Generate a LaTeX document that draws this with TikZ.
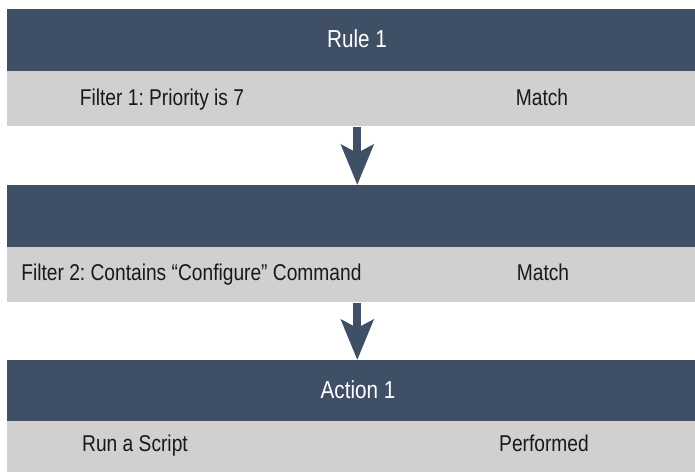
\documentclass[tikz,border=0pt]{standalone}
\usepackage{fontspec}
\setmainfont{Liberation Sans}[FakeStretch=0.84]
\usepackage{xcolor}
\usetikzlibrary{positioning,arrows.meta}
\frenchspacing

\definecolor{slate}{HTML}{3F4F66}
\definecolor{mist}{HTML}{D1CFD0}

\begin{document}
\begin{tikzpicture}[
  x=0.02cm, y=-0.02cm,
  head/.style={fill=slate, minimum width=13.76cm, minimum height=1.24cm,
               inner sep=0pt, anchor=north west},
  body/.style={fill=mist, minimum width=13.76cm, minimum height=1.1cm,
               inner sep=0pt, anchor=north west},
  title/.style={font=\fontsize{14}{16}\selectfont, text=white, inner sep=0pt,
                text height=0.72em, text depth=0pt},
  lbl/.style={font=\fontsize{13}{15}\selectfont, text=black!90, inner sep=0pt,
              text height=0.72em, text depth=0pt},
  flow/.style={-{Stealth[length=0.8cm, width=0.64cm, inset=0.16cm]}, line width=0.16cm,
               draw=slate}
]
  \useasboundingbox (0,0) rectangle (695,471);

  % Rule 1
  \node[head] (rule) at (7,9) {};
  \node[title] (ruletxt) at (357,41) {Rule 1};
  \node[body] (filt1) at (7,71) {};
  \node[lbl] (f1txt) at (162,99) {Filter 1: Priority is 7};
  \node[lbl] (f1res) at (542,99) {Match};

  % Filter 2
  \node[head] (rule2) at (7,185) {};
  \node[body] (filt2) at (7,247) {};
  \node[lbl, anchor=west] (f2txt) at (21,274) {Filter 2: Contains “Configure” Command};
  \node[lbl] (f2res) at (543,274) {Match};

  % Action 1
  \node[head] (act) at (7,360) {};
  \node[title] (acttxt) at (358,392) {Action 1};
  \node[body] (run) at (7,421) {};
  \node[lbl] (runtxt) at (135,445) {Run a Script};
  \node[lbl] (runres) at (544,445) {Performed};

  % Arrows
  \draw[flow] ([xshift=0.12cm]filt1.south) -- ([xshift=0.12cm]rule2.north);
  \draw[flow] ([xshift=0.12cm]filt2.south) -- ([xshift=0.12cm]act.north);
\end{tikzpicture}
\end{document}
